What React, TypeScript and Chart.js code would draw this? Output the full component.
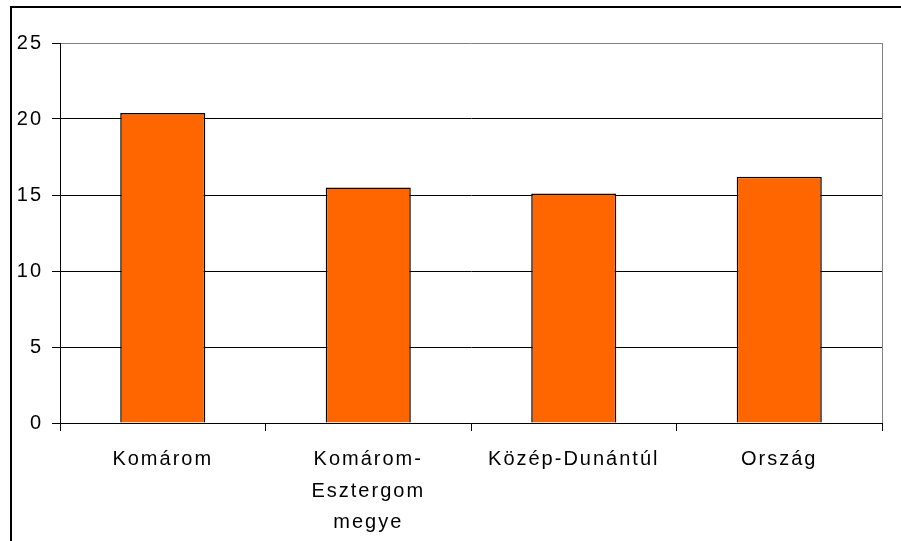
import React, { useEffect, useRef } from "react";
import { Chart, registerables } from "chart.js";

Chart.register(...registerables);

const categories: (string | string[])[] = [
  "Komárom",
  ["Komárom-", "Esztergom", "megye"],
  "Közép-Dunántúl",
  "Ország",
];
const values: number[] = [20.4, 15.5, 15.1, 16.2];
const yTicks: number[] = [0, 5, 10, 15, 20, 25];

const FONT = "'Liberation Sans', Arial, sans-serif";
const LETTER_SPACING = "2px";

const spacingPlugin = {
  id: "spacing",
  beforeLayout(chart: any) {
    chart.ctx.letterSpacing = LETTER_SPACING;
  },
  beforeDraw(chart: any) {
    chart.ctx.letterSpacing = LETTER_SPACING;
    const ctx = chart.ctx;
    ctx.save();
    ctx.fillStyle = "#ffffff";
    ctx.fillRect(0, 0, chart.width, chart.height);
    ctx.restore();
  },
  afterDraw(chart: any) {
    const ctx = chart.ctx;
    const a = chart.chartArea;
    ctx.save();
    ctx.strokeStyle = "#808080";
    ctx.lineWidth = 1;
    ctx.beginPath();
    ctx.moveTo(Math.round(a.right) + 0.5, a.top);
    ctx.lineTo(Math.round(a.right) + 0.5, a.bottom);
    ctx.stroke();
    ctx.fillStyle = "#000000";
    ctx.fillRect(10, 6, chart.width, 2);
    ctx.fillRect(10, 6, 2, chart.height);
    ctx.restore();
  },
};

export default function App() {
  const ref = useRef<HTMLCanvasElement | null>(null);
  useEffect(() => {
    document.body.style.margin = "0";
    const chart = new Chart(ref.current as HTMLCanvasElement, {
      type: "bar",
      data: {
        labels: categories,
        datasets: [
          {
            data: values,
            backgroundColor: "#FF6600",
            borderColor: "#000000",
            borderWidth: 1.5,
            barPercentage: 0.414,
            categoryPercentage: 1,
          },
        ],
      },
      plugins: [spacingPlugin],
      options: {
        animation: false,
        responsive: false,
        devicePixelRatio: 1,
        layout: { padding: { top: 43, right: 19, left: 0, bottom: 0 } },
        plugins: { legend: { display: false }, tooltip: { enabled: false } },
        scales: {
          x: {
            offset: true,
            grid: {
              offset: true,
              drawOnChartArea: false,
              drawTicks: true,
              tickLength: 8,
              color: "#000000",
              tickColor: "#000000",
            },
            border: { color: "#000000", width: 1 },
            ticks: {
              color: "#000000",
              padding: 13,
              maxRotation: 0,
              autoSkip: false,
              font: { family: FONT, size: 20, lineHeight: 1.57 },
            },
            afterFit(scale: any) {
              scale.height = 118;
            },
          },
          y: {
            min: 0,
            max: 25,
            afterBuildTicks(scale: any) {
              scale.ticks = yTicks.map((v) => ({ value: v }));
            },
            grid: {
              color: (c: any) => (c.tick && c.tick.value === 25 ? "#808080" : "#000000"),
              tickColor: "#000000",
              tickLength: 8,
              lineWidth: 1,
            },
            border: { color: "#000000", width: 1 },
            ticks: {
              color: "#000000",
              padding: 9,
              font: { family: FONT, size: 20 },
            },
            afterFit(scale: any) {
              scale.width = 60;
            },
          },
        },
      },
    });
    return () => chart.destroy();
  }, []);
  return (
    <div style={{ position: "absolute", left: 0, top: 0, width: 901, height: 541 }}>
      <canvas ref={ref} width={901} height={541} style={{ display: "block" }} />
    </div>
  );
}
